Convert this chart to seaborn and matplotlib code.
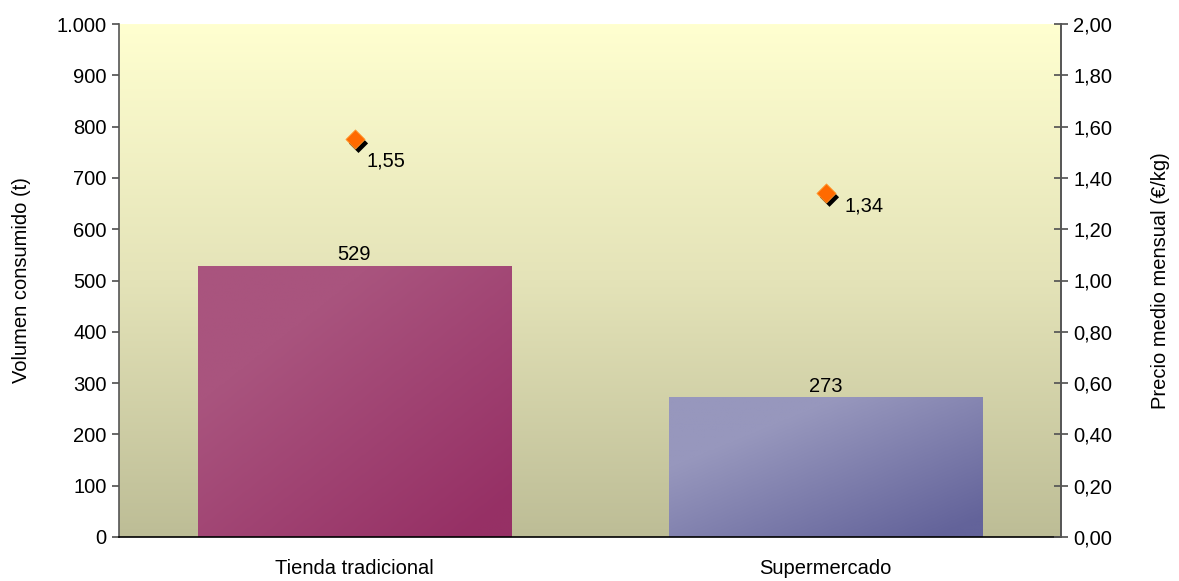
import numpy as np
import pandas as pd
import matplotlib
matplotlib.use("Agg")
import matplotlib.pyplot as plt
import matplotlib.transforms as mtransforms
from matplotlib.colors import LinearSegmentedColormap
import seaborn as sns

categories = ["Tienda tradicional", "Supermercado"]
volumen = [529, 273]
precio = [1.55, 1.34]
vol_ticks = [0, 100, 200, 300, 400, 500, 600, 700, 800, 900, 1000]
price_ticks = [0.0, 0.2, 0.4, 0.6, 0.8, 1.0, 1.2, 1.4, 1.6, 1.8, 2.0]

sns.set_theme(style="white")
plt.rcParams["font.family"] = ["Liberation Sans", "DejaVu Sans"]
FS = 14.5
plt.rcParams.update({"font.size": FS, "text.color": "black", "axes.labelcolor": "black",
                     "xtick.color": "black", "ytick.color": "black"})

df = pd.DataFrame({"cat": categories, "vol": volumen, "precio": precio})

fig = plt.figure(figsize=(11.79, 5.81), dpi=100)
ax = fig.add_axes([119 / 1179, 44 / 581, (1061 - 119) / 1179, (537 - 24) / 581])

sns.barplot(data=df, x="cat", y="vol", ax=ax, width=0.665, color="#a9547e",
            saturation=1, edgecolor="none", zorder=2)
ax.set_ylim(0, 1000)
ax.set_xlim(-0.5, 1.5)

# background gradient
bg = LinearSegmentedColormap.from_list("bg", ["#bdbd96", "#e4e3b8", "#ffffd0"])
grad = np.linspace(0, 1, 256).reshape(-1, 1)
ax.imshow(grad, cmap=bg, aspect="auto", extent=[0, 1, 0, 1],
          transform=ax.transAxes, origin="lower", zorder=0)

# bar gradients (top-left light to bottom-right dark)
bar_cmaps = [
    LinearSegmentedColormap.from_list("b1", ["#963065", "#a9547e"]),
    LinearSegmentedColormap.from_list("b2", ["#63639a", "#9797bd"]),
]
xx, yy = np.meshgrid(np.linspace(0, 1, 200), np.linspace(0, 1, 200))
for patch, cm in zip(ax.patches, bar_cmaps):
    x0, y0 = patch.get_x(), patch.get_y()
    w, h = patch.get_width(), patch.get_height()
    g = np.clip((1 - xx) * 0.55 + yy * 0.6, 0, 1)
    g = np.clip(g * 1.3 - 0.1, 0, 1)
    im = ax.imshow(g, cmap=cm, aspect="auto", extent=[x0, x0 + w, y0, y0 + h],
                   origin="lower", zorder=3)
    im.set_clip_path(patch)
    patch.set_facecolor("none")

for patch, v in zip(ax.patches, volumen):
    ax.annotate(f"{v}", (patch.get_x() + patch.get_width() / 2, v),
                xytext=(0, 1), textcoords="offset points", ha="center", va="bottom",
                fontsize=FS, color="black", zorder=5)

ax.set_xlim(-0.5, 1.5)
ax.set_ylim(0, 1000)
ax.set_yticks(vol_ticks)
ax.set_yticklabels([f"{t:,}".replace(",", ".") for t in vol_ticks])
ax.set_ylabel("Volumen consumido (t)", fontsize=FS, labelpad=18)
ax.set_xlabel("")
ax.set_xticks([0, 1])
ax.set_xticklabels(categories)
ax.set_xticks([-0.5, 0.5, 1.5], minor=True)
ax.tick_params(axis="x", which="major", length=0, pad=16, labelsize=FS, labelcolor="black")
ax.tick_params(axis="x", which="minor", length=6, direction="out", color="#555555", width=1)
ax.tick_params(axis="y", length=5, direction="out", color="#555555", labelsize=FS, pad=4,
               left=True, labelcolor="black")

ax.spines["top"].set_visible(False)
ax.spines["left"].set_color("#555555")
ax.spines["right"].set_color("#555555")
ax.spines["bottom"].set_color("black")
for s in ["left", "right", "bottom"]:
    ax.spines[s].set_linewidth(1.2)
    ax.spines[s].set_zorder(6)

ax2 = ax.twinx()
ax2.set_ylim(0, 2.0)
ax2.set_yticks(price_ticks)
ax2.set_yticklabels([f"{t:.2f}".replace(".", ",") for t in price_ticks])
ax2.tick_params(axis="y", length=10, direction="inout", color="#555555", labelsize=FS, pad=4,
                right=True, labelcolor="black")
ax2.set_ylabel("Precio medio mensual (€/kg)", fontsize=FS, labelpad=28)
for s in ["top", "left", "bottom"]:
    ax2.spines[s].set_visible(False)
ax2.spines["right"].set_color("#555555")
ax2.spines["right"].set_linewidth(1.2)

shadow = mtransforms.offset_copy(ax2.transData, fig=fig, x=4, y=-4, units="dots")
sns.scatterplot(data=df, x="cat", y="precio", ax=ax2, marker="D", s=95, color="black",
                edgecolor="none", transform=shadow, zorder=4, legend=False)
sns.scatterplot(data=df, x="cat", y="precio", ax=ax2, marker="D", s=95, color="#ff6a00",
                edgecolor="#ff9a30", linewidth=0.6, zorder=5, legend=False)
ax2.set_xlim(-0.5, 1.5)
ax2.set_xlabel("")
label_offsets = [(9, -9), (14, -2)]
for xi, (p, off) in enumerate(zip(precio, label_offsets)):
    ax2.annotate(f"{p:.2f}".replace(".", ","), (xi, p), xytext=off,
                 textcoords="offset points", ha="left", va="top", fontsize=FS)

fig.savefig("out.png", dpi=100)
